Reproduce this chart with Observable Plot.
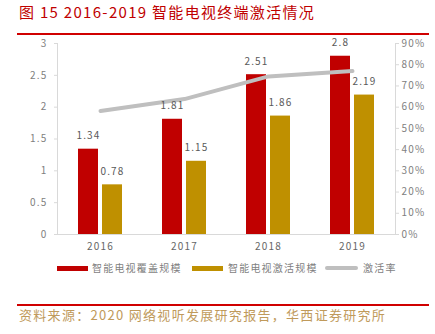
<!DOCTYPE html>
<html><head><meta charset="utf-8">
<script src="https://cdn.jsdelivr.net/npm/d3@7"></script>
<script src="https://cdn.jsdelivr.net/npm/@observablehq/plot@0.6"></script>
<style>
body{margin:0;background:#fff;}
#wrap{position:relative;width:435px;height:334px;overflow:hidden;font-family:"Noto Sans CJK SC",sans-serif;}
.abs{position:absolute;white-space:nowrap;}
#title{left:19px;top:2px;font-size:15px;line-height:20px;color:#C00000;letter-spacing:1.3px;}
.redline{position:absolute;left:17px;width:412px;height:2px;background:#D00000;}
#chart{position:absolute;left:0;top:30px;}
.sw{position:absolute;height:5px;}
.lt{position:absolute;font-size:10px;line-height:14px;color:#7f7f7f;letter-spacing:1.2px;white-space:nowrap;}
#source{left:19px;top:306px;font-size:13px;line-height:18px;color:#C09A5B;letter-spacing:1.3px;}
</style></head><body>
<div id="wrap">
  <div id="title" class="abs"></div>
  <div class="redline" style="top:33px"></div>
  <div id="chart"></div>
  <div id="legend"></div>
  <div class="redline" style="top:304px"></div>
  <div id="source" class="abs"></div>
</div>
<script>
const titleText = "图 15 2016-2019 智能电视终端激活情况";
const sourceText = "资料来源：2020 网络视听发展研究报告，华西证券研究所";
const years = ["2016", "2017", "2018", "2019"];
const coverage = [1.34, 1.81, 2.51, 2.8];
const activated = [0.78, 1.15, 1.86, 2.19];
const ratePct = [58.2, 63.8, 74.5, 77.0];
const leftTicks = [0, 0.5, 1, 1.5, 2, 2.5, 3];
const rightTicks = [0, 10, 20, 30, 40, 50, 60, 70, 80, 90];
const seriesNames = ["智能电视覆盖规模", "智能电视激活规模", "激活率"];
const colors = ["#C00000", "#BF9000", "#BFBFBF"];

document.getElementById("title").textContent = titleText;
document.getElementById("source").textContent = sourceText;

const covData = years.map((y, i) => ({year: y, v: coverage[i]}));
const actData = years.map((y, i) => ({year: y, v: activated[i]}));
const rateData = years.map((y, i) => ({year: y, r: ratePct[i] / 30}));

const chart = Plot.plot({
  width: 435, height: 230,
  marginTop: 13, marginBottom: 26, marginLeft: 57, marginRight: 40,
  style: {fontFamily: "'Noto Sans CJK SC', sans-serif", background: "transparent"},
  x: {domain: years, paddingInner: 0.48, paddingOuter: 0.24},
  y: {domain: [0, 3]},
  marks: [
    Plot.barY(covData, {x: "year", y: "v", fill: colors[0], insetRight: 24}),
    Plot.barY(actData, {x: "year", y: "v", fill: colors[1], insetLeft: 24}),
    Plot.line(rateData, {x: "year", y: "r", stroke: colors[2], strokeWidth: 4}),
    Plot.text(covData, {x: "year", y: "v", text: d => String(d.v), dx: -12, dy: -13, fill: "#595959", fontSize: 10}),
    Plot.text(actData, {x: "year", y: "v", text: d => String(d.v), dx: 12, dy: -13, fill: "#595959", fontSize: 10}),
    Plot.ruleY([0], {stroke: "#d9d9d9"}),
    Plot.axisY(leftTicks, {anchor: "left", tickSize: 3, tickPadding: 7, fontSize: 10, stroke: "#d9d9d9", fill: "#808080", tickFormat: d => String(d), label: null}),
    Plot.axisY(rightTicks.map(t => t / 30), {anchor: "right", tickSize: 3, tickPadding: 3, fontSize: 10, stroke: "#d9d9d9", fill: "#808080", tickFormat: d => Math.round(d * 30) + "%", label: null}),
    Plot.axisX({tickSize: 0, tickPadding: 8, fontSize: 10, fill: "#666666", label: null}),
    Plot.frame({anchor: "left", stroke: "#d9d9d9"}),
    Plot.frame({anchor: "right", stroke: "#d9d9d9"})
  ]
});
document.getElementById("chart").appendChild(chart);
chart.querySelectorAll("text").forEach(t => t.style.letterSpacing = "1.2px");

// legend
const legend = document.getElementById("legend");
const swX = [57, 192, 325], txX = [92, 228, 363];
seriesNames.forEach((n, i) => {
  const s = document.createElement("div");
  s.className = "sw";
  s.style.left = swX[i] + "px";
  s.style.top = (i === 2 ? 266 : 265.5) + "px";
  s.style.width = (i === 2 ? 33 : 31) + "px";
  s.style.height = (i === 2 ? 4 : 5) + "px";
  s.style.borderRadius = i === 2 ? "2px" : "0";
  s.style.background = colors[i];
  legend.appendChild(s);
  const t = document.createElement("div");
  t.className = "lt";
  t.style.left = txX[i] + "px";
  t.style.top = "261px";
  t.textContent = n;
  legend.appendChild(t);
});
</script>
</body></html>
